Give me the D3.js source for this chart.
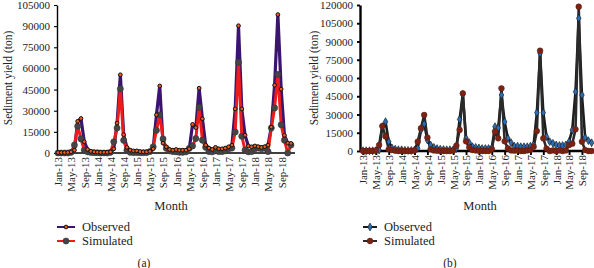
<!DOCTYPE html>
<html>
<head>
<meta charset="utf-8">
<script src="https://cdn.jsdelivr.net/npm/d3@7"></script>
<style>
  body { margin: 0; background: #fff; }
  svg { display: block; }
  text { font-family: "Liberation Serif", "Times New Roman", serif; fill: #222; }
</style>
</head>
<body>
<svg id="chart" width="594" height="268"></svg>
<script>
const years = ["13", "14", "15", "16", "17", "18"];
const monthNames = ["Jan", "Feb", "Mar", "Apr", "May", "Jun", "Jul", "Aug", "Sep", "Oct", "Nov", "Dec"];
const months = years.flatMap(y => monthNames.map(m => `${m}-${y}`));
const tickMonths = months.filter((d, i) => i % 4 === 0);

const ticksA = [0, 15000, 30000, 45000, 60000, 75000, 90000, 105000];
const ticksB = [0, 15000, 30000, 45000, 60000, 75000, 90000, 105000, 120000];

// panel (a)
const obsA = [
  300, 300, 300, 400, 800, 2000, 22500, 24500, 8000, 2500, 1200, 800,
  600, 500, 500, 500, 800, 3000, 21200, 55500, 13000, 4000, 2000, 1500,
  1500, 1000, 800, 800, 1200, 3000, 27100, 47600, 7000, 4400, 2500, 2000,
  2500, 2000, 2000, 2000, 3000, 20300, 18000, 46000, 24300, 5600, 3500, 2500,
  4000, 3000, 3000, 3500, 4400, 5600, 31300, 90300, 31300, 12600, 5000, 4400,
  5000, 4500, 4000, 4500, 5600, 18400, 48100, 98200, 45300, 12600, 7000, 6800
];
const simA = [
  0, 0, 0, 0, 500, 5600, 19000, 10000, 2000, 800, 400, 200,
  200, 0, 0, 0, 500, 7900, 17700, 45500, 9000, 2000, 500, 300,
  300, 200, 200, 300, 1000, 4400, 16100, 27000, 10000, 3300, 1500, 1000,
  800, 500, 500, 800, 3300, 5000, 10300, 32400, 9100, 4000, 1000, 800,
  1500, 1000, 1000, 1500, 3000, 3500, 14900, 64400, 11900, 2000, 800, 1000,
  3000, 3500, 3000, 3500, 1000, 17700, 32000, 55800, 20000, 9100, 0, 5600
];

// panel (b)
const obsB = [
  200, 200, 200, 200, 300, 800, 20000, 24100, 7700, 2500, 1500, 1000,
  1000, 600, 500, 500, 800, 2200, 17300, 22200, 9000, 4900, 3000, 2000,
  1500, 1200, 1000, 1000, 1000, 2000, 26000, 46500, 10400, 6800, 3500, 3000,
  2500, 2000, 2000, 2000, 2500, 20000, 19000, 46000, 24100, 10400, 6800, 4000,
  4000, 3500, 3500, 3500, 4000, 5000, 31500, 80300, 31500, 11800, 7700, 6300,
  5000, 4500, 4500, 5000, 7700, 17300, 48700, 109100, 46000, 11000, 8500, 6800
];
const simB = [
  0, 0, 0, 0, 500, 4900, 20500, 12000, 1400, 800, 300, 0,
  0, 0, 0, 0, 500, 7700, 18700, 29600, 11000, 1400, 500, 300,
  0, 0, 0, 0, 500, 4400, 17300, 47400, 8000, 3000, 800, 500,
  300, 0, 0, 0, 1500, 16000, 10400, 51500, 8000, 2200, 500, 300,
  500, 0, 0, 500, 1000, 3500, 16400, 82400, 10400, 2000, 0, 500,
  0, 500, 0, 500, 4900, 6000, 17800, 118600, 7700, 800, 0, 0
];

const svg = d3.select("#chart");

function drawPanel(p) {
  const g = svg.append("g");
  const x = d3.scalePoint().domain(months).range(p.xRange);
  const y = d3.scaleLinear().domain([0, p.yMax]).range(p.yRange);

  // y axis
  const ya = g.append("g")
    .attr("transform", `translate(${p.axisX},0)`)
    .call(d3.axisLeft(y).tickValues(p.yTicks).tickFormat(d3.format("d"))
      .tickSize(3).tickSizeOuter(0).tickPadding(4));
  ya.select(".domain").attr("stroke", "#000").attr("stroke-width", p.axisW);
  ya.selectAll(".tick line").attr("stroke", "#000").attr("stroke-width", p.axisW * 0.8);
  ya.selectAll("text").attr("font-size", 11).attr("font-family", "Liberation Serif").attr("fill", "#222");

  // x axis
  const xa = g.append("g")
    .attr("transform", `translate(0,${p.yRange[0]})`)
    .call(d3.axisBottom(x).tickValues(tickMonths).tickSize(p.xTick).tickSizeOuter(0));
  xa.select(".domain").attr("d", `M${p.axisX},0H${p.xEnd}`).attr("stroke", "#000").attr("stroke-width", p.axisW);
  xa.selectAll(".tick line").attr("stroke", "#000").attr("stroke-width", p.axisW * 0.8);
  xa.selectAll("text")
    .attr("font-size", 11).attr("font-family", "Liberation Serif").attr("fill", "#222")
    .attr("transform", "rotate(-90)")
    .attr("text-anchor", "end")
    .attr("x", -4).attr("y", 0).attr("dy", "0.35em");

  const line = d3.line().x((d, i) => x(months[i])).y(d => y(d));

  p.series.forEach(s => {
    g.append("path").datum(s.values)
      .attr("fill", "none").attr("stroke", s.lineColor)
      .attr("stroke-width", s.lineW).attr("stroke-linejoin", "round")
      .attr("d", line);
  });
  p.markerOrder.forEach(k => {
    const s = p.series[k];
    g.append("g").selectAll("path").data(s.values).join("path")
      .attr("transform", (d, i) => `translate(${x(months[i])},${y(d)})`)
      .attr("d", d3.symbol().type(s.symbol).size(s.size))
      .attr("fill", s.fill).attr("stroke", s.stroke).attr("stroke-width", s.strokeW);
  });

  // axis titles
  g.append("text")
    .attr("transform", `translate(${p.yTitleX},${p.yTitleY}) rotate(-90)`)
    .attr("text-anchor", "middle").attr("font-size", 11.5)
    .text("Sediment yield (ton)");
  g.append("text")
    .attr("x", p.monthX).attr("y", 210)
    .attr("text-anchor", "middle").attr("font-size", 12.5)
    .text("Month");

  // legend
  p.series.forEach((s, k) => {
    const ly = p.legendY[k];
    g.append("line")
      .attr("x1", p.legendX[0]).attr("x2", p.legendX[1])
      .attr("y1", ly).attr("y2", ly)
      .attr("stroke", s.lineColor).attr("stroke-width", 2);
    g.append("path")
      .attr("transform", `translate(${(p.legendX[0] + p.legendX[1]) / 2},${ly})`)
      .attr("d", d3.symbol().type(s.symbol).size(s.size))
      .attr("fill", s.fill).attr("stroke", s.stroke).attr("stroke-width", s.strokeW);
    g.append("text")
      .attr("x", p.legendX[1] + 7).attr("y", ly + 4)
      .attr("font-size", 12.5)
      .text(s.name);
  });

  g.append("text")
    .attr("x", p.capX).attr("y", 267)
    .attr("text-anchor", "middle").attr("font-size", 11.5)
    .text(p.caption);
}

drawPanel({
  xRange: [58, 291], yRange: [153, 5], yMax: 105000, yTicks: ticksA,
  axisX: 57, xEnd: 295, axisW: 1.4, xTick: 0,
  yTitleX: 12, yTitleY: 78, monthX: 171,
  legendX: [57, 75], legendY: [227, 241], capX: 144, caption: "(a)",
  series: [
    { name: "Observed", values: obsA, lineColor: "#3b1470", lineW: 3.2,
      symbol: d3.symbolCircle, size: 11, fill: "#f05a1e", stroke: "#111", strokeW: 1 },
    { name: "Simulated", values: simA, lineColor: "#ee1b1b", lineW: 3,
      symbol: d3.symbolCircle, size: 30, fill: "#454545", stroke: "#333", strokeW: 0.5 }
  ],
  markerOrder: [1, 0]
});

drawPanel({
  xRange: [363, 591.6], yRange: [151, 5], yMax: 120000, yTicks: ticksB,
  axisX: 360, xEnd: 594, axisW: 2.4, xTick: 4,
  yTitleX: 318, yTitleY: 78, monthX: 480,
  legendX: [363, 377], legendY: [227, 241], capX: 450, caption: "(b)",
  series: [
    { name: "Observed", values: obsB, lineColor: "#1c1c1c", lineW: 2.6,
      symbol: d3.symbolDiamond, size: 18, fill: "#2a6db5", stroke: "#111", strokeW: 0.6 },
    { name: "Simulated", values: simB, lineColor: "#2a2a2a", lineW: 2.6,
      symbol: d3.symbolCircle, size: 26, fill: "#7a2314", stroke: "#5a1a10", strokeW: 0.5 }
  ],
  markerOrder: [0, 1]
});
</script>
</body>
</html>
